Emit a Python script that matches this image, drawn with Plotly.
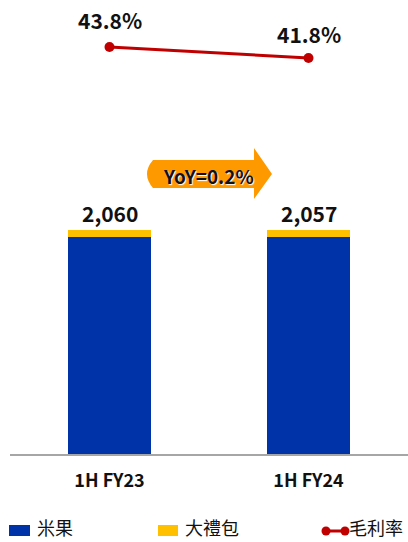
import plotly.graph_objects as go

categories = ["1H FY23", "1H FY24"]
rice_cracker = [1995, 1991]      # 米果
gift_pack = [65, 66]             # 大禮包
totals = [2060, 2057]
total_labels = ["2,060", "2,057"]
gross_margin = [43.8, 41.8]      # 毛利率 (%)
margin_labels = ["43.8%", "41.8%"]
yoy_text = "YoY=0.2%"
series_names = ["米果", "大禮包", "毛利率"]

W, H = 408, 542
L, R, T, B = 10, 0, 0, 88
PW, PH = W - L - R, H - T - B

def px(x):
    return (x - L) / PW

def py(y):
    return (H - B - y) / PH

FONT = "Noto Sans CJK TC"
BLUE, YELLOW, RED, ORANGE = "#0033A8", "#FFC000", "#C00000", "#FF9900"

fig = go.Figure()
fig.add_trace(go.Bar(x=categories, y=rice_cracker, name=series_names[0],
                     marker=dict(color=BLUE, line=dict(width=0))))
fig.add_trace(go.Bar(x=categories, y=gift_pack, name=series_names[1],
                     marker=dict(color=YELLOW, line=dict(width=0))))
fig.add_trace(go.Scatter(x=categories, y=gross_margin, name=series_names[2], yaxis="y2",
                         mode="lines+markers",
                         line=dict(color=RED, width=3),
                         marker=dict(color=RED, size=10)))

for c, t, lab in zip(categories, totals, total_labels):
    fig.add_annotation(x=c, y=t, text=lab, showarrow=False, yanchor="bottom", yshift=0,
                       font=dict(size=21, color="#111111", family=FONT, weight="bold"))

label_shift = [27, 24]
for c, v, lab, s in zip(categories, gross_margin, margin_labels, label_shift):
    fig.add_annotation(x=c, y=v, yref="y2", text=lab, showarrow=False, yanchor="middle",
                       yshift=s, font=dict(size=21, color="#111111", family=FONT, weight="bold"))

# YoY arrow
x0, xb, x1 = 143, 254, 272
yt, yb, ht, hb = 160, 188, 148, 199
path = (f"M {px(x0+10)},{py(yt)} L {px(xb)},{py(yt)} L {px(xb)},{py(ht)} "
        f"L {px(x1)},{py((yt+yb)/2)} L {px(xb)},{py(hb)} L {px(xb)},{py(yb)} "
        f"L {px(x0+10)},{py(yb)} Q {px(x0-2)},{py((yt+yb)/2)} {px(x0+10)},{py(yt)} Z")
fig.add_shape(type="path", path=path, xref="paper", yref="paper",
              fillcolor=ORANGE, line=dict(width=0), layer="above")
fig.add_annotation(x=px(208), y=py(175), xref="paper", yref="paper", text=yoy_text,
                   showarrow=False,
                   font=dict(size=19, color="#111111", family=FONT, weight="bold",
                             shadow="1px 1px 1px #ffffff"))

# custom legend (Excel style)
ly = 527
leg_font = dict(size=18, family=FONT, color="#111111")
fig.add_shape(type="rect", xref="paper", yref="paper", x0=px(9), x1=px(30),
              y0=py(536), y1=py(525), fillcolor=BLUE, line=dict(width=0))
fig.add_annotation(x=px(35), y=py(ly), xref="paper", yref="paper", text=series_names[0],
                   showarrow=False, xanchor="left", yanchor="middle", font=leg_font)
fig.add_shape(type="rect", xref="paper", yref="paper", x0=px(158), x1=px(178),
              y0=py(536), y1=py(525), fillcolor=YELLOW, line=dict(width=0))
fig.add_annotation(x=px(183), y=py(ly), xref="paper", yref="paper", text=series_names[1],
                   showarrow=False, xanchor="left", yanchor="middle", font=leg_font)
fig.add_shape(type="line", xref="paper", yref="paper", x0=px(325), x1=px(347),
              y0=py(531), y1=py(531), line=dict(color=RED, width=3))
for cx in (326, 345):
    fig.add_shape(type="circle", xref="paper", yref="paper", x0=px(cx - 4.5), x1=px(cx + 4.5),
                  y0=py(531 + 4.5), y1=py(531 - 4.5), fillcolor=RED, line=dict(width=0))
fig.add_annotation(x=px(347), y=py(ly), xref="paper", yref="paper", text=series_names[2],
                   showarrow=False, xanchor="left", yanchor="middle", font=leg_font)

fig.update_layout(
    width=W, height=H, barmode="stack", bargap=0.58, showlegend=False,
    margin=dict(l=L, r=R, t=T, b=B, autoexpand=False),
    paper_bgcolor="white", plot_bgcolor="white",
    font=dict(family=FONT, color="#111111"),
    xaxis=dict(type="category", range=[-0.5, 1.5], showline=True, linecolor="#A6A6A6",
               linewidth=1.5, showgrid=False, ticks="", ticklabelstandoff=10,
               tickfont=dict(size=18, family=FONT, weight="bold", color="#111111")),
    yaxis=dict(range=[0, 4175], visible=False, showgrid=False),
    yaxis2=dict(range=[-30.2, 52.35], overlaying="y", visible=False, showgrid=False),
)

fig.write_html("out.html", config={"displayModeBar": False},
               post_script="document.body.style.margin='0px';")
